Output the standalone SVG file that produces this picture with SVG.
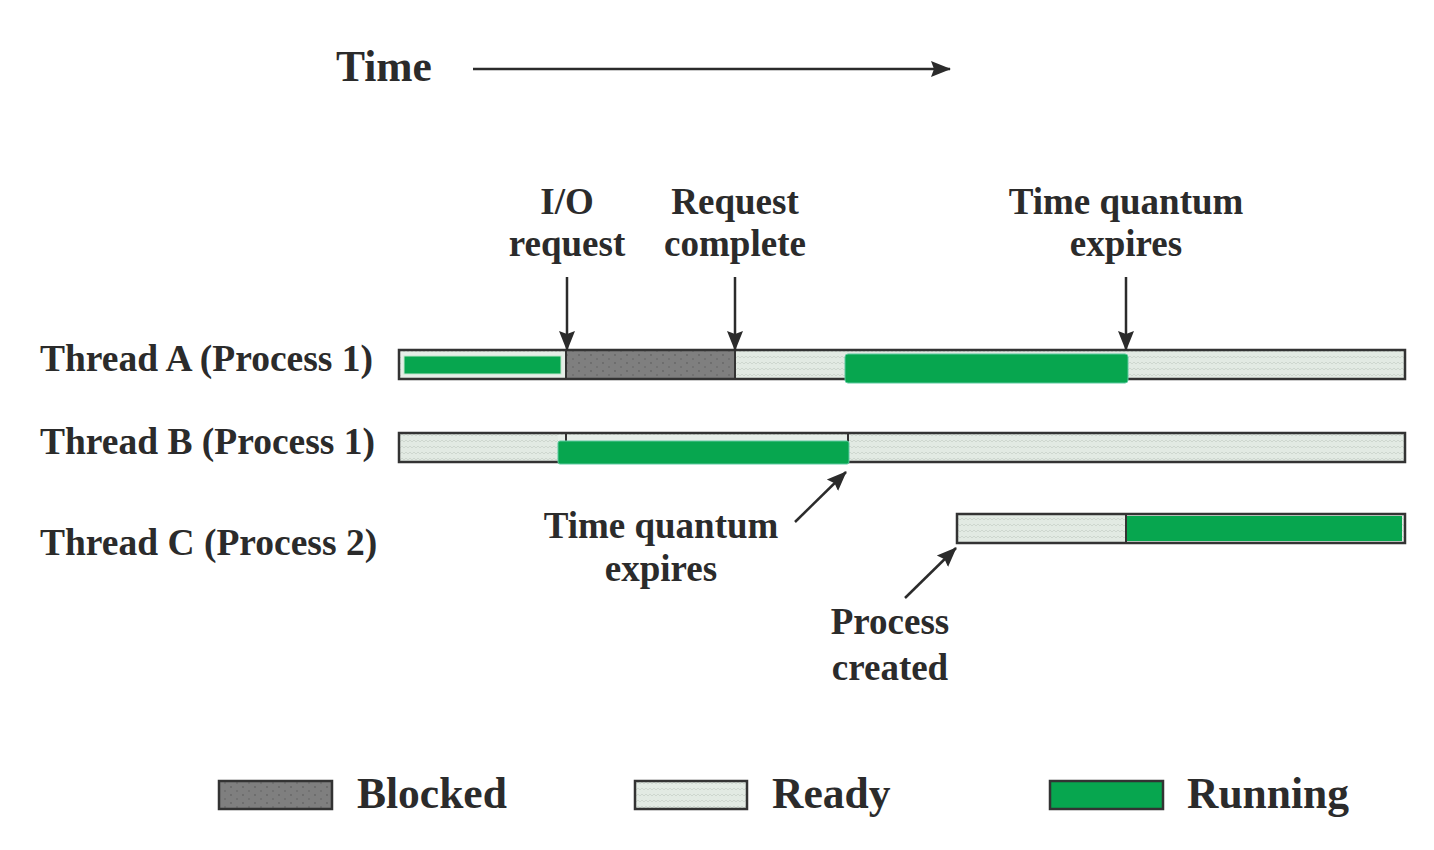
<svg xmlns="http://www.w3.org/2000/svg" width="1434" height="850" viewBox="0 0 1434 850">
  <style>
    .t { font-family: "Liberation Serif", "Times New Roman", serif; font-weight: bold; fill: #2b2b2b; }
    .lbl { font-size: 37px; text-anchor: middle; }
    .row { font-size: 37.5px; }
    .big { font-size: 43.5px; }
    .bar { stroke: #333; stroke-width: 2.5; }
    .ready { fill: url(#readyPat); }
    .blocked { fill: url(#blockedPat); }
    .run { fill: #07a64f; }
    .arr { stroke: #2b2b2b; stroke-width: 2.5; fill: none; }
  </style>
  <defs>
    <pattern id="readyPat" width="8" height="6" patternUnits="userSpaceOnUse">
      <rect width="8" height="6" fill="#e2eae3"/>
      <path d="M0 4 L2 2 L4 4 L6 2 L8 4" stroke="#c9d2ca" stroke-width="0.8" fill="none"/>
    </pattern>
    <pattern id="blockedPat" width="12" height="8" patternUnits="userSpaceOnUse">
      <rect width="12" height="8" fill="#7f7f7f"/>
      <circle cx="3" cy="3" r="0.9" fill="#656565"/>
      <circle cx="9" cy="7" r="0.9" fill="#6c6c6c"/>
    </pattern>
    <marker id="ah" viewBox="0 0 10 10" refX="9.5" refY="5" markerWidth="20" markerHeight="22" orient="auto" markerUnits="userSpaceOnUse">
      <path d="M0 1 L10 5 L0 9 L1.5 5 Z" fill="#2b2b2b"/>
    </marker>
  </defs>

  <!-- Time axis -->
  <g id="time-axis">
    <text class="t big" x="336" y="81">Time</text>
  </g>

  <!-- Thread A -->
  <g id="thread-a">
    <text class="t row" x="40" y="371">Thread A (Process 1)</text>
    <rect class="ready" x="399" y="350" width="1006" height="29"/>
    <rect x="401" y="352" width="164" height="25" fill="#e6eee8"/>
    <rect class="run" x="404" y="356" width="157" height="18" stroke="#bfe6cc" stroke-width="1"/>
    <rect class="blocked" x="566" y="351" width="169" height="27"/>
    <line x1="566" y1="350" x2="566" y2="379" stroke="#333" stroke-width="2"/>
    <line x1="735" y1="350" x2="735" y2="379" stroke="#333" stroke-width="2"/>
    <rect class="bar" x="399" y="350" width="1006" height="29" fill="none"/>
    <rect class="run" x="845" y="354" width="283" height="29" rx="3" stroke="#5fc9a0" stroke-width="1"/>
  </g>

  <!-- Thread B -->
  <g id="thread-b">
    <text class="t row" x="40" y="454">Thread B (Process 1)</text>
    <rect class="ready" x="399" y="433" width="1006" height="29"/>
    <rect x="558" y="435" width="290" height="6" fill="#e6eee8"/>
    <rect class="bar" x="399" y="433" width="1006" height="29" fill="none"/>
    <line x1="566" y1="433" x2="566" y2="442" stroke="#333" stroke-width="2"/>
    <line x1="848" y1="433" x2="848" y2="442" stroke="#333" stroke-width="2"/>
    <rect class="run" x="558" y="441" width="291" height="23" rx="2" stroke="#5fc9a0" stroke-width="1"/>
  </g>

  <!-- Thread C -->
  <g id="thread-c">
    <text class="t row" x="40" y="555">Thread C (Process 2)</text>
    <rect class="ready" x="957" y="514" width="448" height="29"/>
    <rect class="run" x="1127" y="516" width="275" height="25"/>
    <line x1="1126" y1="514" x2="1126" y2="543" stroke="#333" stroke-width="2"/>
    <rect class="bar" x="957" y="514" width="448" height="29" fill="none"/>
  </g>

  <!-- Event labels -->
  <g id="label-io">
    <text class="t lbl" x="567" y="214">I/O</text>
    <text class="t lbl" x="567" y="256">request</text>
  </g>
  <g id="label-complete">
    <text class="t lbl" x="735" y="214">Request</text>
    <text class="t lbl" x="735" y="256">complete</text>
  </g>
  <g id="label-tq1">
    <text class="t lbl" x="1126" y="214">Time quantum</text>
    <text class="t lbl" x="1126" y="256">expires</text>
  </g>
  <g id="label-tq2">
    <text class="t lbl" x="661" y="538">Time quantum</text>
    <text class="t lbl" x="661" y="581">expires</text>
  </g>
  <g id="label-created">
    <text class="t lbl" x="890" y="634">Process</text>
    <text class="t lbl" x="890" y="680">created</text>
  </g>

  <!-- Connectors -->
  <g id="connectors">
    <line class="arr" x1="473" y1="69" x2="950" y2="69" marker-end="url(#ah)"/>
    <line class="arr" x1="567" y1="277" x2="567" y2="350" marker-end="url(#ah)"/>
    <line class="arr" x1="735" y1="277" x2="735" y2="350" marker-end="url(#ah)"/>
    <line class="arr" x1="1126" y1="277" x2="1126" y2="350" marker-end="url(#ah)"/>
    <line class="arr" x1="795" y1="522" x2="846" y2="472" marker-end="url(#ah)"/>
    <line class="arr" x1="905" y1="598" x2="956" y2="548" marker-end="url(#ah)"/>
  </g>

  <!-- Legend -->
  <g id="legend-blocked">
    <rect class="blocked bar" x="219" y="781" width="113" height="28"/>
    <text class="t big" x="357" y="808">Blocked</text>
  </g>
  <g id="legend-ready">
    <rect class="ready bar" x="635" y="781" width="112" height="28"/>
    <text class="t big" x="772" y="808">Ready</text>
  </g>
  <g id="legend-running">
    <rect class="run bar" x="1050" y="781" width="113" height="28"/>
    <text class="t big" x="1187" y="808">Running</text>
  </g>
</svg>
